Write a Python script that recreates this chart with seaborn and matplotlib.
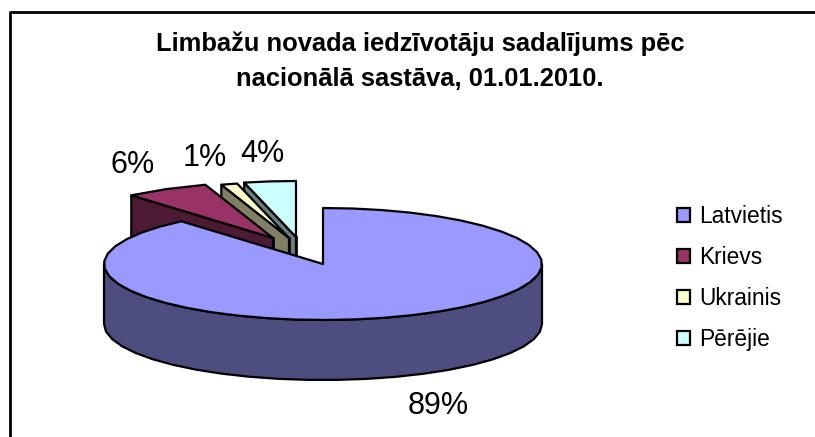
import numpy as np
import seaborn as sns
import matplotlib.pyplot as plt
from matplotlib.patches import Patch

sns.set_theme(style="white")
plt.rcParams['font.family'] = ['Liberation Sans', 'DejaVu Sans']

names = ["Latvietis", "Krievs", "Ukrainis", "Pērējie"]
shares = [88.8, 6.2, 1.2, 3.8]
share_labels = ["89%", "6%", "1%", "4%"]
colors = ["#9999FF", "#993366", "#FFFFCC", "#CCFFFF"]
walls = ["#4D4D80", "#4D1A33", "#808066", "#668080"]

# pie geometry in pixels
cx, cy = 323, 264
rx, ry = 219, 56
depth = 60
# exploded pieces are shifted by hand, excel does not do it evenly
shift = [(0, 0), (-50, -26), (-34, -26), (-27, -27)]
label_pos = [(438, 406), (133, 165), (205, 158), (262, 154)]

fracs = np.array(shares) / sum(shares)
ends = np.cumsum(fracs) * 2 * np.pi
starts = ends - fracs * 2 * np.pi


def rim(a, b, x0, y0):
    n = max(3, int(abs(b - a) / (2 * np.pi) * 48))
    t = np.linspace(a, b, n)
    return x0 + rx * np.sin(t), y0 - ry * np.cos(t)


fig = plt.figure(figsize=(8.15, 4.37), dpi=100)
ax = fig.add_axes([0, 0, 1, 1])
ax.set_xlim(0, 815)
ax.set_ylim(437, 0)
ax.axis("off")

ax.plot([9.5, 9.5, 815], [437, 11.5, 11.5], color="black", lw=2)

edge = dict(edgecolor="black", linewidth=1.6, joinstyle="round")

# back pieces first, the last one in the pie is furthest behind
for i in [3, 2, 1]:
    x0 = cx + shift[i][0]
    y0 = cy + shift[i][1]
    x, y = rim(starts[i], ends[i], x0, y0)
    # wall along the left radial edge
    ax.fill([x0, x[0], x[0], x0], [y0, y[0], y[0] + depth, y0 + depth],
            facecolor=walls[i], **edge)
    ax.fill(np.r_[x0, x], np.r_[y0, y], facecolor=colors[i], **edge)
    # right edge wall only shows as a sliver below the apex
    ax.fill([x0, x0 + 1, x0 + 1, x0], [y0, y0, y0 + depth, y0 + depth],
            facecolor=walls[i], edgecolor="black", linewidth=1.2)

# big slice: outer wall of the front half, then top
x, y = rim(np.pi / 2, 3 * np.pi / 2, cx, cy)
ax.fill(np.r_[x, x[::-1]], np.r_[y, y[::-1] + depth], facecolor=walls[0], **edge)
x, y = rim(starts[0], ends[0], cx, cy)
ax.fill(np.r_[cx, x], np.r_[cy, y], facecolor=colors[0], **edge)

for txt, (px, py) in zip(share_labels, label_pos):
    ax.text(px, py, txt, fontsize=22, color="black", ha="center", va="center")

ax.text(420, 61.5, "Limbažu novada iedzīvotāju sadalījums pēc\nnacionālā sastāva, 01.01.2010.",
        fontsize=18.4, fontweight="bold", color="black", ha="center", va="center",
        linespacing=1.58)

handles = [Patch(facecolor=c, edgecolor="black", linewidth=1.6) for c in colors]
ax.legend(handles, names, loc="center left", bbox_to_anchor=(0.805, 0.364), frameon=False,
          fontsize=16.4, handlelength=0.58, handleheight=0.58, handletextpad=0.42,
          labelspacing=0.79, labelcolor="black")

fig.savefig("out.png", dpi=100)
